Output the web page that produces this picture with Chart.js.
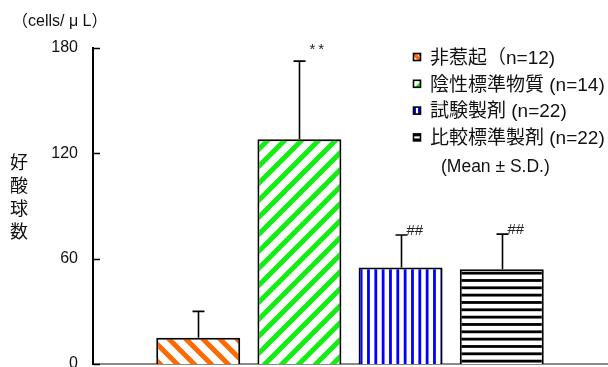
<!DOCTYPE html>
<html>
<head>
<meta charset="utf-8">
<script src="https://cdn.jsdelivr.net/npm/chart.js@4.4.1/dist/chart.umd.min.js"></script>
<style>
  html, body { margin: 0; padding: 0; background: #fff; }
  canvas { display: block; }
</style>
</head>
<body>
<canvas id="chart" width="608" height="367"></canvas>
<script>
// Eosinophil counts per group: mean and standard deviation
const groups = ['非惹起', '陰性標準物質', '試験製剤', '比較標準製剤'];
const legendLabels = ['非惹起（n=12)', '陰性標準物質 (n=14)', '試験製剤 (n=22)', '比較標準製剤 (n=22)'];
const meanValues = [15, 128, 55, 54];
const sdValues = [15, 44.5, 18.5, 20];
const sigMarks = ['', '**', '##', '##'];
const yTicks = [0, 60, 120, 180];
const unitLabel = '（cells/ μ L）';
const yTitleChars = ['好', '酸', '球', '数'];
const statNote = '(Mean ± S.D.)';

const LATIN = '"Liberation Sans", Arial, sans-serif';
const MIXED = '"Liberation Sans", "Noto Sans CJK JP", sans-serif';
const HATCH = ['#ff6a00', '#11ee11', '#0000ff', '#000000'];

// Hatch fills for the four bars
function makePattern(kind, color) {
  const c = document.createElement('canvas');
  const g = c.getContext('2d');
  if (kind === 'back' || kind === 'fwd') {
    const P = 17;
    c.width = P; c.height = P;
    g.fillStyle = '#fff'; g.fillRect(0, 0, P, P);
    g.strokeStyle = color; g.lineWidth = 5;
    g.beginPath();
    for (let k = -1; k <= 2; k++) {
      if (kind === 'back') {
        g.moveTo(-2, -2 + k * P); g.lineTo(P + 2, P + 2 + k * P);
      } else {
        g.moveTo(-2, k * P + 2); g.lineTo(P + 2, k * P - P - 2);
      }
    }
    g.stroke();
  } else if (kind === 'vert') {
    const S = 22;
    c.width = S; c.height = S;
    g.fillStyle = '#fff'; g.fillRect(0, 0, S, S);
    g.fillStyle = color;
    for (let k = 0; k < 3; k++) g.fillRect(k * S / 3 + 0.4, 0, 2.8, S);
  } else {
    const S = 22;
    c.width = S; c.height = S;
    g.fillStyle = '#fff'; g.fillRect(0, 0, S, S);
    g.fillStyle = color;
    for (let k = 0; k < 3; k++) g.fillRect(0, k * S / 3 + 0.4, S, 2.8);
  }
  return g.createPattern(c, 'repeat');
}

const fills = [
  makePattern('back', HATCH[0]),
  makePattern('fwd', HATCH[1]),
  makePattern('vert', HATCH[2]),
  makePattern('horz', HATCH[3])
];

// Small legend swatch showing a piece of each hatch
function drawSwatch(ctx, i, x, y, s) {
  ctx.save();
  ctx.beginPath();
  ctx.rect(x, y, s, s);
  ctx.fillStyle = '#fff';
  ctx.fill();
  ctx.clip();
  ctx.fillStyle = HATCH[i];
  ctx.strokeStyle = HATCH[i];
  if (i === 0) {
    ctx.lineWidth = 3.5;
    ctx.beginPath();
    ctx.moveTo(x, y); ctx.lineTo(x + s, y + s);
    ctx.stroke();
    ctx.beginPath();
    ctx.moveTo(x + s * 0.5, y); ctx.lineTo(x + s, y); ctx.lineTo(x + s, y + s * 0.5);
    ctx.fill();
  } else if (i === 1) {
    ctx.beginPath();
    ctx.moveTo(x + s, y + s * 0.2); ctx.lineTo(x + s, y + s); ctx.lineTo(x + s * 0.2, y + s);
    ctx.fill();
  } else if (i === 2) {
    ctx.fillRect(x, y, s * 0.35, s);
    ctx.fillRect(x + s * 0.65, y, s * 0.35, s);
  } else {
    ctx.fillRect(x, y, s, s * 0.35);
    ctx.fillRect(x, y + s * 0.65, s, s * 0.35);
  }
  ctx.restore();
  ctx.strokeStyle = '#000';
  ctx.lineWidth = 1.6;
  ctx.strokeRect(x, y, s, s);
}

// Error bars, significance marks, inward ticks and annotation text
const decorations = {
  id: 'decorations',
  afterDatasetsDraw(chart) {
    const ctx = chart.ctx;
    const ys = chart.scales.y;
    const area = chart.chartArea;
    const bars = chart.getDatasetMeta(0).data;
    ctx.save();
    ctx.strokeStyle = '#000';
    ctx.lineWidth = 1.6;
    bars.forEach((bar, i) => {
      const x = Math.round(bar.x) + 0.5;
      const yBar = ys.getPixelForValue(meanValues[i]);
      const yTop = ys.getPixelForValue(meanValues[i] + sdValues[i]);
      ctx.beginPath();
      ctx.moveTo(x, yBar);
      ctx.lineTo(x, yTop);
      ctx.moveTo(x - 6, yTop);
      ctx.lineTo(x + 6, yTop);
      ctx.stroke();
      if (sigMarks[i]) {
        ctx.fillStyle = '#222';
        ctx.textAlign = 'left';
        ctx.textBaseline = 'alphabetic';
        if (sigMarks[i] === '**') {
          ctx.font = '15px ' + LATIN;
          ctx.letterSpacing = '3px';
          ctx.fillText(sigMarks[i], x + 10, yTop - 7);
          ctx.letterSpacing = '0px';
        } else {
          ctx.font = '15px ' + LATIN;
          ctx.fillText(sigMarks[i], x + 5, yTop);
        }
      }
    });
    // ticks point into the plot area
    ctx.lineWidth = 1.5;
    yTicks.forEach(v => {
      const y = Math.round(ys.getPixelForValue(v)) + 0.5;
      ctx.beginPath();
      ctx.moveTo(area.left, y);
      ctx.lineTo(area.left + 7, y);
      ctx.stroke();
    });
    ctx.restore();
  },
  afterDraw(chart) {
    const ctx = chart.ctx;
    ctx.save();
    ctx.fillStyle = '#111';
    ctx.textBaseline = 'middle';
    // unit label
    ctx.textAlign = 'left';
    ctx.font = '16px ' + MIXED;
    ctx.fillText(unitLabel, 12, 22);
    // vertical axis title, one character per line
    ctx.textAlign = 'center';
    ctx.font = '18px "Noto Sans CJK JP", sans-serif';
    yTitleChars.forEach((ch, k) => ctx.fillText(ch, 19, 162 + k * 23));
    // legend
    ctx.textAlign = 'left';
    legendLabels.forEach((lab, i) => {
      const cy = 57.5 + i * 26.8;
      drawSwatch(ctx, i, 413.5, cy - 4, 7);
      ctx.fillStyle = '#111';
      ctx.font = '19px ' + MIXED;
      ctx.fillText(lab, 430, cy + 1);
    });
    ctx.font = '17.5px ' + LATIN;
    ctx.fillText(statNote, 441, 167);
    ctx.restore();
  }
};

new Chart(document.getElementById('chart'), {
  type: 'bar',
  data: {
    labels: groups,
    datasets: [{
      data: meanValues.map((v, i) => ({ x: i + 1, y: v })),
      backgroundColor: fills,
      borderColor: '#000',
      borderWidth: 2,
      barPercentage: 0.83,
      categoryPercentage: 1
    }]
  },
  options: {
    responsive: false,
    animation: false,
    events: [],
    layout: { padding: { top: 48, right: 0, bottom: 0, left: 0 } },
    plugins: { legend: { display: false }, tooltip: { enabled: false } },
    scales: {
      x: {
        type: 'linear',
        offset: false,
        min: -0.04,
        max: 5.05,
        afterBuildTicks(s) { s.ticks = groups.map((g, i) => ({ value: i + 1 })); },
        grid: { display: false, drawTicks: false },
        ticks: { display: false },
        border: { display: true, color: '#8a8a8a', width: 2 },
        afterFit(s) { s.height = 3; s.paddingLeft = 0; s.paddingRight = 0; }
      },
      y: {
        min: 0,
        max: 180,
        afterBuildTicks(s) { s.ticks = yTicks.map(v => ({ value: v })); },
        grid: { display: false, drawTicks: false },
        border: { display: true, color: '#000', width: 2 },
        ticks: { color: '#111', font: { family: LATIN, size: 16 }, padding: 15 },
        afterFit(s) { s.width = 93; s.paddingTop = 0; s.paddingBottom = 0; }
      }
    }
  },
  plugins: [decorations]
});
</script>
</body>
</html>
